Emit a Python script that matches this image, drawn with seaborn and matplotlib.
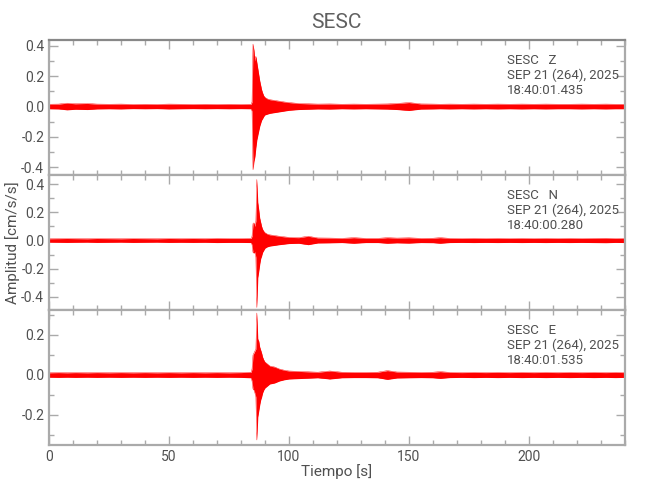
import numpy as np
import pandas as pd
import matplotlib
matplotlib.use("Agg")
import matplotlib.pyplot as plt
import seaborn as sns
from matplotlib.ticker import MultipleLocator

# ---- data (envelope of each trace, cm/s/s) ----
noise_t = [0, 4, 7.5, 11, 16, 20, 25, 30, 35, 40, 45, 50, 55, 60, 65, 70, 75, 80, 84.2,
           104, 108, 112, 117, 122, 127, 132, 137, 141, 145, 150, 155, 160, 163, 167,
           172, 177, 182, 187, 192, 197, 202, 207, 212, 217, 222, 227, 232, 236, 240]
event_t = [84.6, 85.0, 85.4, 85.8, 86.2, 86.6, 87.0, 87.4, 87.8, 88.2, 88.6,
           89.0, 89.5, 90, 91, 92, 94, 96, 98, 100]

z_noise = [0.015, 0.016, 0.022, 0.018, 0.02, 0.016, 0.015, 0.016, 0.014, 0.015, 0.014, 0.016,
           0.015, 0.014, 0.015, 0.014, 0.015, 0.014, 0.015,
           0.02, 0.018, 0.016, 0.017, 0.015, 0.016, 0.015, 0.016, 0.017, 0.02, 0.026, 0.017,
           0.016, 0.015, 0.016, 0.015, 0.016, 0.015, 0.016, 0.015, 0.016, 0.015, 0.016,
           0.015, 0.015, 0.016, 0.015, 0.016, 0.015, 0.015]
z_up = [0.03, 0.41, 0.37, 0.30, 0.33, 0.29, 0.25, 0.21, 0.17, 0.14, 0.11,
        0.09, 0.07, 0.06, 0.05, 0.045, 0.04, 0.035, 0.03, 0.026]
z_lo = [-0.03, -0.415, -0.36, -0.33, -0.27, -0.22, -0.19, -0.16, -0.13, -0.11, -0.09,
        -0.08, -0.065, -0.055, -0.05, -0.045, -0.04, -0.035, -0.03, -0.025]

n_noise = [0.012, 0.013, 0.014, 0.013, 0.012, 0.014, 0.013, 0.012, 0.014, 0.013, 0.012,
           0.014, 0.013, 0.014, 0.013, 0.015, 0.014, 0.014, 0.015,
           0.02, 0.03, 0.018, 0.017, 0.015, 0.02, 0.015, 0.015, 0.02, 0.017, 0.019,
           0.015, 0.016, 0.02, 0.015, 0.014, 0.015, 0.014, 0.015, 0.014, 0.015, 0.014,
           0.015, 0.014, 0.015, 0.014, 0.015, 0.016, 0.014, 0.015]
n_up = [0.03, 0.12, 0.125, 0.10, 0.14, 0.434, 0.27, 0.22, 0.16, 0.13, 0.10,
        0.08, 0.065, 0.055, 0.045, 0.04, 0.035, 0.03, 0.026, 0.022]
n_lo = [-0.03, -0.085, -0.09, -0.08, -0.12, -0.477, -0.265, -0.22, -0.17, -0.13, -0.11,
        -0.085, -0.07, -0.055, -0.045, -0.04, -0.035, -0.03, -0.026, -0.022]

e_noise = [0.011, 0.012, 0.011, 0.012, 0.011, 0.012, 0.011, 0.012, 0.011, 0.012, 0.011,
           0.012, 0.011, 0.012, 0.011, 0.012, 0.011, 0.012, 0.014,
           0.018, 0.016, 0.014, 0.02, 0.014, 0.013, 0.013, 0.014, 0.022, 0.015, 0.014,
           0.013, 0.014, 0.017, 0.013, 0.012, 0.013, 0.012, 0.013, 0.012, 0.013, 0.012,
           0.013, 0.012, 0.013, 0.012, 0.013, 0.012, 0.013, 0.012]
e_up = [0.03, 0.10, 0.11, 0.12, 0.13, 0.31, 0.18, 0.17, 0.14, 0.125, 0.11,
        0.09, 0.075, 0.065, 0.055, 0.045, 0.04, 0.03, 0.024, 0.02]
e_lo = [-0.03, -0.07, -0.075, -0.09, -0.11, -0.325, -0.21, -0.18, -0.15, -0.125, -0.11,
        -0.09, -0.075, -0.065, -0.055, -0.045, -0.04, -0.03, -0.024, -0.02]

components = ["Z", "N", "E"]
start_times = ["18:40:01.435", "18:40:00.280", "18:40:01.535"]
date_label = "SEP 21 (264), 2025"
y_limits = [(-0.45, 0.437), (-0.495, 0.466), (-0.35, 0.325)]


def trace_frame(noise, up, lo):
    df = pd.DataFrame({
        "t": noise_t + event_t,
        "up": list(noise) + up,
        "lo": [-v for v in noise] + lo,
    })
    return df.sort_values("t").reset_index(drop=True)


traces = [trace_frame(z_noise, z_up, z_lo),
          trace_frame(n_noise, n_up, n_lo),
          trace_frame(e_noise, e_up, e_lo)]

# ---- style ----
sns.set_style("ticks")
plt.rcParams["font.family"] = ["Roboto", "DejaVu Sans"]
plt.rcParams["font.weight"] = "normal"
grey = "#aaaaaa"
txt = "#505050"
plt.rcParams.update({
    "xtick.direction": "in", "ytick.direction": "in",
    "xtick.top": True, "ytick.right": True,
    "xtick.color": grey, "ytick.color": grey,
    "xtick.labelcolor": txt, "ytick.labelcolor": txt,
    "xtick.major.size": 6.5, "ytick.major.size": 6.5,
    "xtick.minor.size": 3.5, "ytick.minor.size": 3.5,
    "xtick.major.width": 1.0, "ytick.major.width": 1.0,
    "xtick.minor.width": 1.0, "ytick.minor.width": 1.0,
    "xtick.labelsize": 10, "ytick.labelsize": 10,
})

fig, axes = plt.subplots(3, 1, figsize=(6.5, 5), dpi=100, sharex=True)
fig.subplots_adjust(left=0.0754, right=0.9615, top=0.92, bottom=0.11, hspace=0)

for ax, df, comp, hhmm, ylim in zip(axes, traces, components, start_times, y_limits):
    ax.fill_between(df["t"], df["lo"], df["up"], color="red", lw=0)
    sns.lineplot(data=df, x="t", y="up", ax=ax, color="red", lw=0.3)
    sns.lineplot(data=df, x="t", y="lo", ax=ax, color="red", lw=0.3)
    ax.set_xlim(0, 240)
    ax.set_ylim(*ylim)
    ax.xaxis.set_major_locator(MultipleLocator(50))
    ax.xaxis.set_minor_locator(MultipleLocator(10))
    ax.yaxis.set_major_locator(MultipleLocator(0.2))
    ax.yaxis.set_minor_locator(MultipleLocator(0.1))
    ax.yaxis.set_major_formatter(plt.FuncFormatter(lambda v, p: f"{v:.1f}"))
    ax.set_xlabel("")
    ax.set_ylabel("")
    for sp in ax.spines.values():
        sp.set_color(grey)
        sp.set_linewidth(1.6)
    ax.text(0.795, 0.895, f"SESC   {comp}\n{date_label}\n{hhmm}", transform=ax.transAxes,
            ha="left", va="top", fontsize=9.5, color=txt, linespacing=1.17)

axes[0].spines["top"].set_color("#888888")
for ax in axes[:2]:
    ax.tick_params(axis="x", labelbottom=False)

axes[2].xaxis.set_major_formatter(plt.FuncFormatter(lambda v, p: f"{v:.0f}"))
fig.text(0.518, 0.955, "SESC", ha="center", va="center", fontsize=15, color="#606060")
fig.text(0.518, 0.056, "Tiempo [s]", ha="center", va="center", fontsize=11, color=txt)
fig.text(0.02, 0.515, "Amplitud [cm/s/s]", ha="center", va="center", rotation=90,
         fontsize=11, color=txt)

fig.savefig("out.png", dpi=100)
